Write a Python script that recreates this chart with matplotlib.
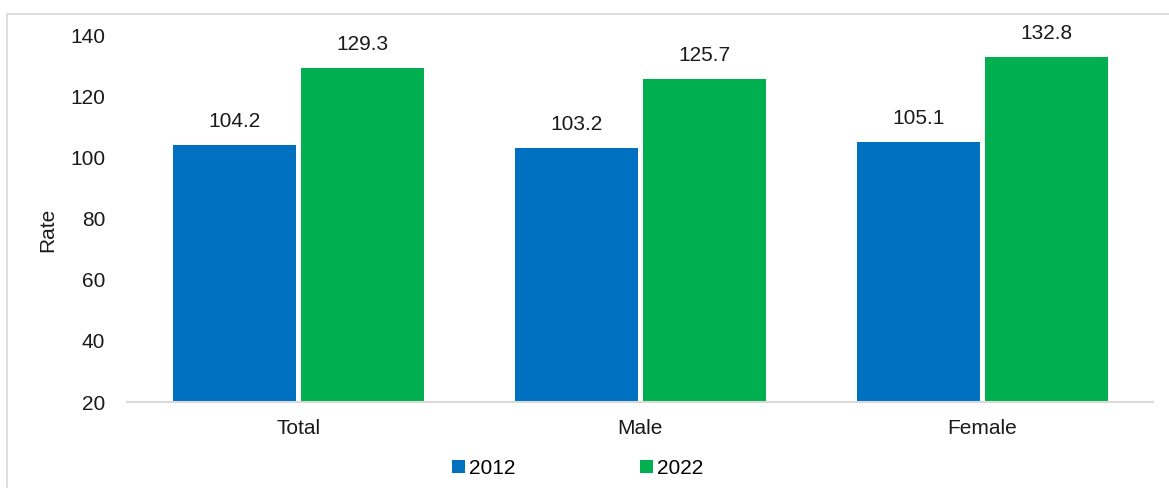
import numpy as np
import matplotlib
matplotlib.use("Agg")
import matplotlib.pyplot as plt
from matplotlib.patches import Rectangle, Patch

plt.rcParams['font.family'] = ['Liberation Sans', 'DejaVu Sans']

categories = ['Total', 'Male', 'Female']
years = ['2012', '2022']
rate_2012 = [104.2, 103.2, 105.1]
rate_2022 = [129.3, 125.7, 132.8]
colors = ['#0070C0', '#00B050']

fs = 15
fig = plt.figure(figsize=(11.69, 4.88), dpi=100)
ax = fig.add_axes([0.109, 0.1762, 0.8777, 0.752])

x = np.arange(len(categories))
w = 0.358
off = 0.187
for vals, dx, col in [(rate_2012, -off, colors[0]), (rate_2022, off, colors[1])]:
    bars = ax.bar(x + dx, vals, width=w, bottom=0, color=col, zorder=2)
    for b, v in zip(bars, vals):
        ax.annotate(f'{v:.1f}', (b.get_x() + b.get_width() / 2, v),
                    xytext=(0, 10), textcoords='offset points',
                    ha='center', va='bottom', fontsize=fs, color='#1a1a1a')

ax.set_xlim(-0.5, 2.5)
ax.set_ylim(20, 140)
ax.set_yticks(range(20, 141, 20))
ax.set_xticks(x)
ax.set_xticklabels(categories)
ax.tick_params(axis='both', length=0, labelsize=fs, colors='#1a1a1a')
ax.tick_params(axis='y', pad=16)
ax.tick_params(axis='x', pad=12)
for s in ['top', 'right', 'left']:
    ax.spines[s].set_visible(False)
ax.spines['bottom'].set_color('#d9d9d9')
ax.spines['bottom'].set_linewidth(1.5)
ax.set_ylabel('Rate', fontsize=fs, color='#1a1a1a')
ax.yaxis.set_label_coords(-0.068, 0.47)

handles = [Patch(facecolor=c, label=y) for c, y in zip(colors, years)]
fig.legend(handles=handles, loc='center', bbox_to_anchor=(0.494, 0.04), ncol=2,
           frameon=False, fontsize=fs, handlelength=0.62, handleheight=0.62,
           handletextpad=0.2, columnspacing=6.0)

fig.patches.append(Rectangle((7 / 1169, -0.1), 1.2, 1 - 14 / 488 + 0.1,
                             transform=fig.transFigure, fill=False,
                             edgecolor='#d9d9d9', linewidth=1.2))

fig.savefig('out.png', dpi=100)
